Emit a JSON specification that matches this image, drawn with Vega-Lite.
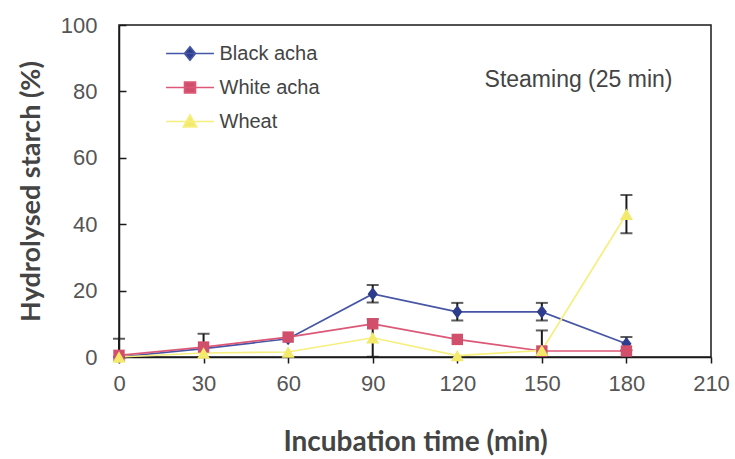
{
  "$schema": "https://vega.github.io/schema/vega-lite/v6.json",
  "width": 592,
  "height": 332,
  "autosize": "none",
  "padding": {"left": 119, "top": 25, "right": 24, "bottom": 102},
  "background": "white",
  "config": {
    "view": {"stroke": "#1a1a1a", "strokeWidth": 1.5},
    "font": "Liberation Sans"
  },
  "datasets": {
    "hydrolysis": [
      {"time": 0, "grain": "Black acha", "value": 0, "lo": 0, "hi": 5.5},
      {"time": 30, "grain": "Black acha", "value": 2.5, "lo": 0, "hi": 7},
      {"time": 60, "grain": "Black acha", "value": 5.5},
      {"time": 90, "grain": "Black acha", "value": 19, "lo": 16.4, "hi": 21.7},
      {"time": 120, "grain": "Black acha", "value": 13.6, "lo": 11, "hi": 16.3},
      {"time": 150, "grain": "Black acha", "value": 13.6, "lo": 11, "hi": 16.3},
      {"time": 180, "grain": "Black acha", "value": 4, "lo": 2, "hi": 6},
      {"time": 0, "grain": "White acha", "value": 0.5},
      {"time": 30, "grain": "White acha", "value": 3},
      {"time": 60, "grain": "White acha", "value": 6},
      {"time": 90, "grain": "White acha", "value": 10},
      {"time": 120, "grain": "White acha", "value": 5.3},
      {"time": 150, "grain": "White acha", "value": 1.8},
      {"time": 180, "grain": "White acha", "value": 1.8},
      {"time": 0, "grain": "Wheat", "value": 0},
      {"time": 30, "grain": "Wheat", "value": 1.2},
      {"time": 60, "grain": "Wheat", "value": 1.5},
      {"time": 90, "grain": "Wheat", "value": 5.8, "lo": 0.1, "hi": 11.4},
      {"time": 120, "grain": "Wheat", "value": 0.4},
      {"time": 150, "grain": "Wheat", "value": 2, "lo": 0, "hi": 8},
      {"time": 180, "grain": "Wheat", "value": 43, "lo": 37.3, "hi": 48.8}
    ]
  },
  "data": {"name": "hydrolysis"},
  "layer": [
    {
      "mark": {"type": "line", "strokeWidth": 1.7},
      "encoding": {
        "x": {
          "field": "time",
          "type": "quantitative",
          "title": "Incubation time (min)",
          "scale": {"domain": [0, 210], "nice": false},
          "axis": {
            "values": [0, 30, 60, 90, 120, 150, 180, 210],
            "grid": false,
            "domainColor": "#1a1a1a",
            "domainWidth": 1.5,
            "tickColor": "#1a1a1a",
            "tickWidth": 1.5,
            "tickSize": 6,
            "labelFont": "Liberation Sans",
            "labelFontSize": 22,
            "labelColor": "#555555",
            "labelPadding": 10,
            "labelFlush": false,
            "titleFont": "Lato",
            "titleFontWeight": "bold",
            "titleFontSize": 28,
            "titleColor": "#444444",
            "titlePadding": 34
          }
        },
        "y": {
          "field": "value",
          "type": "quantitative",
          "title": "Hydrolysed starch (%)",
          "scale": {"domain": [0, 100], "nice": false},
          "axis": {
            "values": [0, 20, 40, 60, 80, 100],
            "grid": false,
            "domainColor": "#1a1a1a",
            "domainWidth": 1.5,
            "tickColor": "#1a1a1a",
            "tickWidth": 1.5,
            "tickSize": -7,
            "labelFont": "Liberation Sans",
            "labelFontSize": 22,
            "labelColor": "#555555",
            "labelPadding": 29,
            "labelFlush": false,
            "titleFont": "Lato",
            "titleFontWeight": "bold",
            "titleFontSize": 27,
            "titleColor": "#444444",
            "titlePadding": 15
          }
        },
        "color": {
          "field": "grain",
          "type": "nominal",
          "scale": {
            "domain": ["Black acha", "White acha", "Wheat"],
            "range": ["#4655a4", "#dc5878", "#f6ef7e"]
          },
          "legend": {
            "title": null,
            "orient": "none",
            "legendX": 53.5,
            "legendY": 11,
            "symbolSize": 1089,
            "symbolStrokeWidth": 1.7,
            "labelFont": "Liberation Sans",
            "labelFontSize": 20,
            "labelColor": "#444444",
            "labelOffset": 12,
            "rowPadding": 6,
            "encode": {
              "symbols": {
                "update": {
                  "shape": {"signal": "datum.value === 'Black acha' ? 'M-1.45,0H1.45M0,-0.4L0.33,0L0,0.4L-0.33,0Z' : datum.value === 'White acha' ? 'M-1.45,0H1.45M-0.33,-0.33H0.33V0.33H-0.33Z' : 'M-1.45,0H1.45M0,-0.4L0.4,0.33H-0.4Z'"},
                  "fill": {"signal": "datum.value === 'Black acha' ? '#2d3c8c' : datum.value === 'White acha' ? '#d24f6c' : '#f3ea6c'"},
                  "fillOpacity": {"value": 1},
                  "opacity": {"value": 1}
                }
              }
            }
          }
        }
      }
    },
    {
      "transform": [{"filter": "isValid(datum.hi)"}],
      "mark": {
        "type": "errorbar",
        "color": "#1a1a1a",
        "thickness": 2,
        "ticks": {"size": 12, "color": "#1a1a1a", "strokeWidth": 2}
      },
      "encoding": {
        "x": {"field": "time", "type": "quantitative", "title": "Incubation time (min)"},
        "y": {"field": "lo", "type": "quantitative", "title": "Hydrolysed starch (%)"},
        "y2": {"field": "hi"}
      }
    },
    {
      "transform": [{"filter": "datum.grain === 'Black acha'"}],
      "mark": {"type": "point", "filled": true, "opacity": 1, "size": 144, "shape": "M0,-1.1L0.85,0L0,1.1L-0.85,0Z", "color": "#2d3c8c"},
      "encoding": {
        "x": {"field": "time", "type": "quantitative", "title": "Incubation time (min)"},
        "y": {"field": "value", "type": "quantitative", "title": "Hydrolysed starch (%)"}
      }
    },
    {
      "transform": [{"filter": "datum.grain === 'White acha'"}],
      "mark": {"type": "point", "filled": true, "opacity": 1, "size": 130, "shape": "square", "color": "#d24f6c"},
      "encoding": {
        "x": {"field": "time", "type": "quantitative", "title": "Incubation time (min)"},
        "y": {"field": "value", "type": "quantitative", "title": "Hydrolysed starch (%)"}
      }
    },
    {
      "transform": [{"filter": "datum.grain === 'Wheat'"}],
      "mark": {"type": "point", "filled": true, "opacity": 1, "size": 170, "shape": "triangle-up", "color": "#f3ea6c"},
      "encoding": {
        "x": {"field": "time", "type": "quantitative", "title": "Incubation time (min)"},
        "y": {"field": "value", "type": "quantitative", "title": "Hydrolysed starch (%)"}
      }
    },
    {
      "data": {"values": [{"note": "Steaming (25 min)"}]},
      "mark": {
        "type": "text",
        "font": "Liberation Sans",
        "fontSize": 23,
        "color": "#444444",
        "align": "center",
        "baseline": "middle"
      },
      "encoding": {
        "text": {"field": "note"},
        "x": {"datum": 163},
        "y": {"datum": 83.4}
      }
    }
  ]
}
